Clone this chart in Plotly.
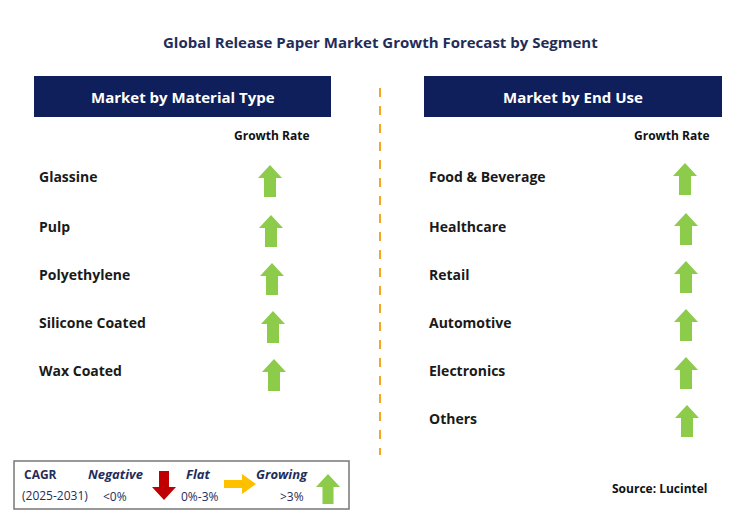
import plotly.graph_objects as go

title = "Global Release Paper Market Growth Forecast by Segment"
left_header = "Market by Material Type"
right_header = "Market by End Use"
left_items = ["Glassine", "Pulp", "Polyethylene", "Silicone Coated", "Wax Coated"]
right_items = ["Food & Beverage", "Healthcare", "Retail", "Automotive", "Electronics", "Others"]
row_y = [176, 226, 274, 322, 370, 418]
left_arrow_x = [270, 271, 272, 273, 274]
right_arrow_x = [685, 686, 686, 686, 686, 687]

NAVY = "#0E1F5B"
GREEN = "#8DCB4A"
F = "Open Sans"
fig = go.Figure()
shapes, ann = [], []

def up_arrow(cx, cy, color, w=24, h=32, sw=12):
    top, bot, mid = cy - h/2, cy + h/2, cy - h/2 + w/2 + 1
    return dict(type="path", xref="x", yref="y", line=dict(width=0), fillcolor=color,
                path=f"M{cx},{top} L{cx+w/2},{mid} L{cx+sw/2},{mid} L{cx+sw/2},{bot} L{cx-sw/2},{bot} L{cx-sw/2},{mid} L{cx-w/2},{mid} Z")

def text(x, y, s, size=14, color="#1a1a1a", anchor="left", bold=True, italic=False):
    if bold: s = f"<b>{s}</b>"
    if italic: s = f"<i>{s}</i>"
    ann.append(dict(x=x, y=y, xref="x", yref="y", text=s, showarrow=False, xanchor=anchor,
                    yanchor="middle", font=dict(family=F, size=size, color=color)))

text(380, 42, title, 15, "#1F2D5A", "center")
for x0, x1, t in [(34, 331, left_header), (424, 722, right_header)]:
    shapes.append(dict(type="rect", x0=x0, x1=x1, y0=76, y1=117, fillcolor=NAVY, line=dict(width=0)))
    text((x0+x1)/2, 97, t, 15, "white", "center")
text(272, 135, "Growth Rate", 12, "#111", "center")
text(672, 135, "Growth Rate", 12, "#111", "center")
for i, s in enumerate(left_items):
    text(37, row_y[i], s, 14)
    shapes.append(up_arrow(left_arrow_x[i], row_y[i]+5, GREEN))
for i, s in enumerate(right_items):
    text(427, row_y[i], s, 14)
    shapes.append(up_arrow(right_arrow_x[i], row_y[i]+3, GREEN))
shapes.append(dict(type="line", x0=380, x1=380, y0=88, y1=455, line=dict(color="#F5A623", width=2, dash="dash")))

# legend box
shapes.append(dict(type="rect", x0=14, x1=349, y0=461, y1=509, line=dict(color="#777", width=1.5)))
text(22, 474, "CAGR", 12, "#1F2D5A")
text(20, 495, "(2025-2031)", 12, "#1F2D5A", bold=False)
text(115, 474, "Negative", 13, "#1F2D5A", "center", italic=True)
text(115, 496, "&lt;0%", 12, "#1F2D5A", "center", bold=False)
shapes.append(dict(type="path", line=dict(width=0), fillcolor="#C00000",
                   path="M159,471 L169,471 L169,487 L176,487 L164,500 L152,487 L159,487 Z"))
text(198, 474, "Flat", 13, "#1F2D5A", "center", italic=True)
text(200, 496, "0%-3%", 12, "#1F2D5A", "center", bold=False)
shapes.append(dict(type="path", line=dict(width=0), fillcolor="#FFC000",
                   path="M224,480 L242,480 L242,474 L256,484 L242,494 L242,488 L224,488 Z"))
text(282, 474, "Growing", 13, "#1F2D5A", "center", italic=True)
text(292, 496, "&gt;3%", 12, "#1F2D5A", "center", bold=False)
shapes.append(up_arrow(328, 489, GREEN, w=24, h=30, sw=11))

text(710, 488, "Source: Lucintel", 12, "#111", "right")

fig.update_layout(width=753, height=523, margin=dict(l=0, r=0, t=0, b=0),
                  paper_bgcolor="white", plot_bgcolor="white", shapes=shapes, annotations=ann,
                  xaxis=dict(range=[8, 761], visible=False, fixedrange=True),
                  yaxis=dict(range=[531, 8], visible=False, fixedrange=True), showlegend=False)
fig.write_html("out.html")
